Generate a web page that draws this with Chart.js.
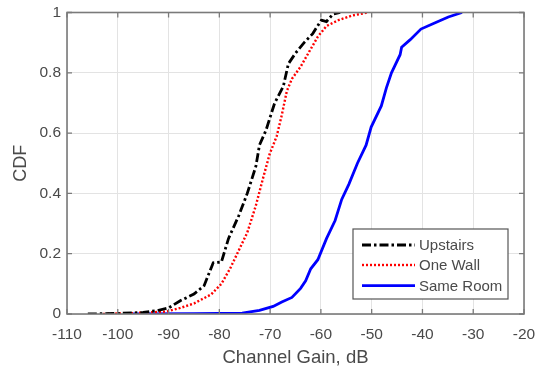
<!DOCTYPE html>
<html>
<head>
<meta charset="utf-8">
<script src="https://cdn.jsdelivr.net/npm/chart.js@4.4.1/dist/chart.umd.min.js"></script>
<style>
  html, body { margin: 0; padding: 0; background: #ffffff; }
  #wrap { width: 541px; height: 369px; }
</style>
</head>
<body>
<div id="wrap"><canvas id="c" width="541" height="369"></canvas></div>
<script>
// ---- Data ----
const seriesLabels = ['Upstairs', 'One Wall', 'Same Room'];

const upstairsGain = [-105.9, -100, -95, -92, -90, -87.7, -85, -83, -81.2, -79.6, -78.2, -76.2, -74.5, -72.8, -72.1, -70.8, -69.1, -67.4, -66.4, -65, -63.3, -61.6, -59.9, -58.9, -57.6, -56.2];
const upstairsCdf  = [0, 0.002, 0.005, 0.012, 0.02, 0.044, 0.066, 0.094, 0.17, 0.172, 0.25, 0.325, 0.40, 0.49, 0.56, 0.61, 0.70, 0.755, 0.83, 0.865, 0.90, 0.93, 0.975, 0.97, 0.995, 1.0];

const oneWallGain = [-102.9, -97.1, -90.4, -87.7, -85, -81.6, -79.6, -77.9, -76.2, -74.5, -72.8, -71.4, -70.1, -68.7, -67.7, -66.7, -65.7, -64, -62.3, -60.6, -58.9, -56.5, -53.8, -50.8];
const oneWallCdf  = [0, 0.003, 0.008, 0.02, 0.035, 0.065, 0.10, 0.15, 0.21, 0.27, 0.36, 0.45, 0.53, 0.59, 0.66, 0.74, 0.78, 0.82, 0.87, 0.92, 0.955, 0.975, 0.99, 1.0];

const sameRoomGain = [-97.1, -85, -75.5, -72.1, -69.4, -67.7, -65.7, -64, -63, -62, -60.6, -58.9, -57.2, -55.9, -54.5, -52.8, -51.1, -50.1, -48.1, -47.1, -46.1, -44.4, -44.1, -42.4, -40.3, -37.6, -34.9, -32.2];
const sameRoomCdf  = [0, 0.001, 0.003, 0.012, 0.025, 0.04, 0.055, 0.085, 0.11, 0.15, 0.18, 0.25, 0.31, 0.38, 0.43, 0.50, 0.56, 0.62, 0.69, 0.75, 0.80, 0.86, 0.885, 0.91, 0.945, 0.965, 0.985, 1.0];

const xTickMin = -110, xTickMax = -20, xTickStep = 10;
const yTickMin = 0, yTickMax = 1, yTickStep = 0.2;
const xAxisTitle = 'Channel Gain, dB';
const yAxisTitle = 'CDF';

// ---- Build ----
function pts(xs, ys) { return xs.map((x, i) => ({ x: x, y: ys[i] })); }

const FONT = "'Liberation Sans', Arial, Helvetica, sans-serif";
const TXT = '#4a4a4a';

const styles = [
  { color: '#000000', dash: [9, 3, 2.5, 3], width: 2.8 },
  { color: '#ff0000', dash: [2, 2], width: 2.4 },
  { color: '#0000ff', dash: [], width: 2.8 }
];

const datasets = [
  pts(upstairsGain, upstairsCdf),
  pts(oneWallGain, oneWallCdf),
  pts(sameRoomGain, sameRoomCdf)
].map((d, i) => ({
  label: seriesLabels[i],
  data: d,
  borderColor: styles[i].color,
  backgroundColor: styles[i].color,
  borderDash: styles[i].dash,
  borderWidth: styles[i].width,
  pointRadius: 0,
  tension: 0,
  fill: false
}));

// inner tick marks + box
const boxPlugin = {
  id: 'boxPlugin',
  afterDatasetsDraw(chart) {
    const ctx = chart.ctx, a = chart.chartArea;
    const xs = chart.scales.x, ys = chart.scales.y;
    ctx.save();
    ctx.strokeStyle = '#7a7a7a';
    ctx.lineWidth = 1.3;
    const L = 5;
    ctx.beginPath();
    xs.ticks.forEach(t => {
      const p = xs.getPixelForValue(t.value);
      ctx.moveTo(p, a.bottom); ctx.lineTo(p, a.bottom - L);
      ctx.moveTo(p, a.top); ctx.lineTo(p, a.top + L);
    });
    ys.ticks.forEach(t => {
      const p = ys.getPixelForValue(t.value);
      ctx.moveTo(a.left, p); ctx.lineTo(a.left + L, p);
      ctx.moveTo(a.right, p); ctx.lineTo(a.right - L, p);
    });
    ctx.stroke();
    ctx.lineWidth = 1.6;
    ctx.strokeRect(a.left, a.top, a.right - a.left, a.bottom - a.top);
    ctx.restore();
  }
};

// MATLAB-like legend inside plot area
const legendPlugin = {
  id: 'legendPlugin',
  afterDraw(chart) {
    const ctx = chart.ctx, a = chart.chartArea;
    const w = 155, h = 70;
    const right = a.right - 16, bottom = a.bottom - 15;
    const left = right - w, top = bottom - h;
    ctx.save();
    ctx.fillStyle = '#ffffff';
    ctx.fillRect(left, top, w, h);
    ctx.strokeStyle = '#555555';
    ctx.lineWidth = 1.2;
    ctx.strokeRect(left, top, w, h);
    const rows = [16, 36, 56.7];
    chart.data.datasets.forEach((ds, i) => {
      const y = top + rows[i];
      ctx.beginPath();
      ctx.strokeStyle = ds.borderColor;
      ctx.lineWidth = ds.borderWidth;
      ctx.setLineDash(ds.borderDash);
      ctx.moveTo(left + 9, y);
      ctx.lineTo(left + 62, y);
      ctx.stroke();
      ctx.setLineDash([]);
      ctx.fillStyle = TXT;
      ctx.font = '15px ' + FONT;
      ctx.textBaseline = 'middle';
      ctx.textAlign = 'left';
      ctx.fillText(ds.label, left + 66, y + 1);
    });
    ctx.restore();
  }
};

function fmt(v) { return String(Math.round(v * 10) / 10); }

new Chart(document.getElementById('c'), {
  type: 'line',
  data: { datasets: datasets },
  plugins: [boxPlugin, legendPlugin],
  options: {
    responsive: false,
    animation: false,
    devicePixelRatio: 1,
    layout: { padding: { top: 12.5, right: 17, left: 0, bottom: 0 } },
    plugins: { legend: { display: false }, tooltip: { enabled: false } },
    scales: {
      x: {
        type: 'linear',
        min: xTickMin, max: xTickMax,
        afterFit(s) { s.height = 55; s.paddingLeft = 0; s.paddingRight = 0; },
        ticks: {
          stepSize: xTickStep,
          padding: 11,
          color: TXT,
          font: { family: FONT, size: 15.5 },
          maxRotation: 0,
          autoSkip: false,
          callback: fmt
        },
        grid: { color: '#e3e3e3', lineWidth: 1, drawTicks: false },
        border: { display: false },
        title: {
          display: true, text: xAxisTitle, color: TXT,
          font: { family: FONT, size: 18.5 },
          padding: { top: 0, bottom: 0 }
        }
      },
      y: {
        type: 'linear',
        min: yTickMin, max: yTickMax,
        afterFit(s) { s.width = 67; s.paddingTop = 0; s.paddingBottom = 0; },
        ticks: {
          stepSize: yTickStep,
          padding: 6,
          color: TXT,
          font: { family: FONT, size: 15.5 },
          callback: fmt
        },
        grid: { color: '#e3e3e3', lineWidth: 1, drawTicks: false },
        border: { display: false },
        title: {
          display: true, text: yAxisTitle, color: TXT,
          font: { family: FONT, size: 18 },
          padding: { top: 10, bottom: 0 }
        }
      }
    }
  }
});
</script>
</body>
</html>
